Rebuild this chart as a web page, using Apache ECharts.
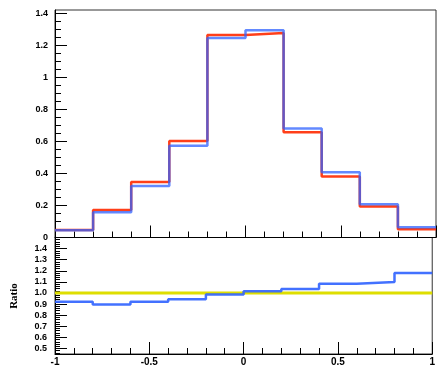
<!DOCTYPE html>
<html><head><meta charset="utf-8">
<script src="https://cdn.jsdelivr.net/npm/echarts@6/dist/echarts.min.js"></script>
<style>html,body{margin:0;padding:0;background:#fff}#c{width:438px;height:367px}</style>
</head><body><div id="c"></div>
<script>
const binEdges = [-1.0,-0.8,-0.6,-0.4,-0.2,0.0,0.2,0.4,0.6,0.8,1.0];
const redValues = [0.047,0.172,0.347,0.603,1.264,1.276,0.657,0.380,0.193,0.051];
const blueValues = [0.045,0.157,0.322,0.572,1.245,1.293,0.680,0.407,0.207,0.064];
const ratioValues = [0.920,0.896,0.920,0.944,0.986,1.016,1.036,1.083,1.100,1.180];
const refValues = [1,1,1,1,1,1,1,1,1,1];
const xTickLabels = [-1,-0.5,0,0.5,1];
const topYLabels = [0,0.2,0.4,0.6,0.8,1,1.2,1.4];
const ratioYLabels = [0.5,0.6,0.7,0.8,0.9,1.0,1.1,1.2,1.3,1.4];

function stepData(vals){
  return binEdges.map((e,i)=>[e, vals[Math.min(i, vals.length-1)]]);
}
function range(a,b,s){const r=[];for(let k=0;a+k*s<=b+1e-9;k++)r.push(+(a+k*s).toFixed(4));return r;}
const topYMinor = range(0,1.4,0.05);
const ratioYMinor = range(0.46,1.5,0.02);

const lblFont = {fontFamily:'Liberation Sans', fontWeight:'bold', fontSize:9, color:'#000'};
const L = 55, W = 381;
const chart = echarts.init(document.getElementById('c'), null, {renderer:'canvas'});
const xCommon = {
  type:'value', min:-1, max:1, interval:0.5,
  axisLine:{show:true, onZero:false, lineStyle:{color:'#000', width:1}},
  axisTick:{show:true, inside:true, length:12, lineStyle:{color:'#000'}},
  minorTick:{show:true, splitNumber:5, length:6, lineStyle:{color:'#000'}},
  splitLine:{show:false}
};
chart.setOption({
  animation:false,
  backgroundColor:'#fff',
  grid:[
    {left:L, top:10, width:W, height:227.5, show:true, borderColor:'#333', borderWidth:1, backgroundColor:'transparent'},
    {left:L, top:237.5, width:W, height:117.5, show:true, borderColor:'#333', borderWidth:1, backgroundColor:'transparent'}
  ],
  xAxis:[
    Object.assign({}, xCommon, {gridIndex:0, position:'bottom', axisLabel:{show:false}}),
    Object.assign({}, xCommon, {gridIndex:1, position:'bottom',
      axisLabel:{show:true, margin:3, fontSize:10, customValues:xTickLabels,
        formatter:v=>String(+v.toFixed(2)), fontFamily:'Liberation Sans', fontWeight:'bold', color:'#000'}})
  ],
  yAxis:[
    {type:'value', gridIndex:0, position:'left', min:0, max:1.42,
     axisLine:{show:true, onZero:false, lineStyle:{color:'#000'}},
     axisTick:{show:true, inside:true, length:12, customValues:topYLabels, lineStyle:{color:'#000'}},
     axisLabel:Object.assign({show:true, margin:7, customValues:topYLabels, formatter:v=>String(+v.toFixed(2))}, lblFont),
     splitLine:{show:false}},
    {type:'value', gridIndex:0, position:'left', min:0, max:1.42,
     axisLine:{show:false, onZero:false},
     axisTick:{show:true, inside:true, length:6, customValues:topYMinor, lineStyle:{color:'#000'}},
     axisLabel:{show:false}, splitLine:{show:false}},
    {type:'value', gridIndex:1, position:'left', min:0.45, max:1.5,
     axisLine:{show:true, onZero:false, lineStyle:{color:'#000'}},
     axisTick:{show:true, inside:true, length:12, customValues:ratioYLabels, lineStyle:{color:'#000'}},
     axisLabel:Object.assign({show:true, margin:8, customValues:ratioYLabels, formatter:v=>v.toFixed(1)}, lblFont),
     splitLine:{show:false}},
    {type:'value', gridIndex:1, position:'left', min:0.45, max:1.5,
     axisLine:{show:false, onZero:false},
     axisTick:{show:true, inside:true, length:5, customValues:ratioYMinor, lineStyle:{color:'#000'}},
     axisLabel:{show:false}, splitLine:{show:false}}
  ],
  series:[
    {type:'line', xAxisIndex:0, yAxisIndex:0, step:'end', showSymbol:false, data:stepData(redValues),
     lineStyle:{color:'#ff2a00', width:2.5, opacity:0.9}},
    {type:'line', xAxisIndex:0, yAxisIndex:0, step:'end', showSymbol:false, data:stepData(blueValues),
     lineStyle:{color:'#2f62ff', width:2.5, opacity:0.75}},
    {type:'line', xAxisIndex:1, yAxisIndex:2, step:'end', showSymbol:false, data:stepData(refValues),
     lineStyle:{color:'#dede00', width:3}},
    {type:'line', xAxisIndex:1, yAxisIndex:2, step:'end', showSymbol:false, data:stepData(ratioValues),
     lineStyle:{color:'#2f62ff', width:2.5, opacity:0.9}}
  ],
  graphic:[
    {type:'text', x:14, y:296, rotation:Math.PI/2,
     style:{text:'Ratio', fontFamily:'Liberation Serif', fontWeight:'bold', fontSize:11, fill:'#000',
            textAlign:'center', textVerticalAlign:'middle'}}
  ]
});
</script></body></html>
